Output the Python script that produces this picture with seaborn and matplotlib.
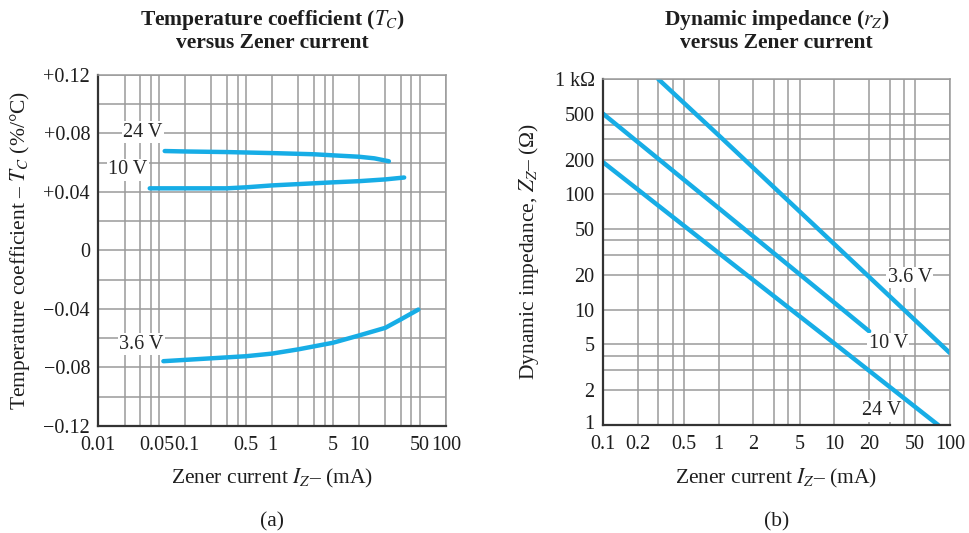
import matplotlib
matplotlib.use("Agg")
import matplotlib.pyplot as plt
import matplotlib.transforms as mtransforms
import seaborn as sns
from matplotlib.ticker import FixedLocator, FixedFormatter, NullFormatter

# (a) temperature coefficient (%/°C) vs Zener current (mA)
tc_24v_i = [0.058, 0.1, 0.3, 1, 3, 6, 10, 15, 22]
tc_24v = [0.068, 0.0677, 0.0673, 0.0666, 0.0658, 0.0648, 0.0641, 0.0630, 0.0610]
tc_10v_i = [0.039, 0.1, 0.3, 0.5, 1, 2, 5, 10, 20, 33]
tc_10v = [0.0425, 0.0425, 0.0425, 0.0432, 0.0445, 0.0454, 0.0466, 0.0474, 0.0486, 0.0499]
tc_36v_i = [0.056, 0.1, 0.5, 1, 2, 5, 10, 20, 30, 48]
tc_36v = [-0.0757, -0.0748, -0.0723, -0.0705, -0.0676, -0.0631, -0.0581, -0.0529, -0.0472, -0.0404]

# (b) dynamic impedance (ohm) vs Zener current (mA)
rz_36v_i = [0.3, 1, 10, 100]
rz_36v = [1000, 325, 37, 4.2]
rz_10v_i = [0.1, 1, 10, 20]
rz_10v = [500, 76, 11.5, 6.5]
rz_24v_i = [0.1, 1, 10, 79]
rz_24v = [190, 31, 5.1, 1]

# tick labels
a_xticks = [0.01, 0.05, 0.1, 0.5, 1, 5, 10, 50, 100]
a_xlabels = ["0.01", "0.05", "0.1", "0.5", "1", "5", "10", "50", "100"]
a_yticks = [-0.12, -0.08, -0.04, 0, 0.04, 0.08, 0.12]
a_ylabels = ["\u22120.12", "\u22120.08", "\u22120.04", "0", "+0.04", "+0.08", "+0.12"]
b_xticks = [0.1, 0.2, 0.5, 1, 2, 5, 10, 20, 50, 100]
b_xlabels = ["0.1", "0.2", "0.5", "1", "2", "5", "10", "20", "50", "100"]
b_yticks = [1, 2, 5, 10, 20, 50, 100, 200, 500, 1000]
b_ylabels = ["1", "2", "5", "10", "20", "50", "100", "200", "500", "1 k\u03a9"]

sns.set_style("white")
plt.rcParams["font.family"] = ["Liberation Serif", "DejaVu Serif"]
plt.rcParams["mathtext.fontset"] = "stix"

blue = "#17ade6"
grid_c = "#9a9a9a"
txt_c = "#1e1e1e"
fs_tick = 14.5
fs_lab = 15.5

fig = plt.figure(figsize=(9.69, 5.33), dpi=100)
ax1 = fig.add_axes([0.1015, 0.2008, 0.3588, 0.6585])
ax2 = fig.add_axes([0.6223, 0.2026, 0.3581, 0.6492])

ax1.set_xscale("log")
ax2.set_xscale("log")
ax2.set_yscale("log")

lw = 3.2
sns.lineplot(x=tc_24v_i, y=tc_24v, ax=ax1, color=blue, lw=lw)
sns.lineplot(x=tc_10v_i, y=tc_10v, ax=ax1, color=blue, lw=lw)
sns.lineplot(x=tc_36v_i, y=tc_36v, ax=ax1, color=blue, lw=lw)
sns.lineplot(x=rz_36v_i, y=rz_36v, ax=ax2, color=blue, lw=lw)
sns.lineplot(x=rz_10v_i, y=rz_10v, ax=ax2, color=blue, lw=lw)
sns.lineplot(x=rz_24v_i, y=rz_24v, ax=ax2, color=blue, lw=lw)

ax1.set_xlim(0.01, 100)
ax1.set_ylim(-0.12, 0.12)
ax2.set_xlim(0.1, 100)
ax2.set_ylim(1, 1000)

ax1.xaxis.set_major_locator(FixedLocator(a_xticks))
ax1.xaxis.set_major_formatter(FixedFormatter(a_xlabels))
ax1.xaxis.set_minor_locator(FixedLocator([0.02, 0.03, 0.04, 0.2, 0.3, 0.4, 2, 3, 4, 20, 30, 40]))
ax1.xaxis.set_minor_formatter(NullFormatter())
ax1.yaxis.set_major_locator(FixedLocator(a_yticks))
ax1.yaxis.set_major_formatter(FixedFormatter(a_ylabels))
ax1.yaxis.set_minor_locator(FixedLocator([-0.10, -0.06, -0.02, 0.02, 0.06, 0.10]))

ax2.xaxis.set_major_locator(FixedLocator(b_xticks))
ax2.xaxis.set_major_formatter(FixedFormatter(b_xlabels))
ax2.xaxis.set_minor_locator(FixedLocator([0.3, 0.4, 3, 4, 30, 40]))
ax2.xaxis.set_minor_formatter(NullFormatter())
ax2.yaxis.set_major_locator(FixedLocator(b_yticks))
ax2.yaxis.set_major_formatter(FixedFormatter(b_ylabels))
ax2.yaxis.set_minor_locator(FixedLocator([3, 4, 30, 40, 300, 400]))
ax2.yaxis.set_minor_formatter(NullFormatter())

for ax in (ax1, ax2):
    ax.set_axisbelow(True)
    ax.grid(True, which="both", color=grid_c, lw=1.1)
    ax.tick_params(which="both", length=0, labelsize=fs_tick, colors=txt_c)
    ax.tick_params(axis="x", pad=7)
    ax.tick_params(axis="y", pad=6)
    for s in ("top", "right"):
        ax.spines[s].set_color(grid_c)
        ax.spines[s].set_linewidth(1.1)
    for s in ("left", "bottom"):
        ax.spines[s].set_color("#333333")
        ax.spines[s].set_linewidth(1.6)
    ax.set_xlabel(r"Zener current $I_Z$" + "\u2013 (mA)", fontsize=fs_lab, color=txt_c)


def nudge(label, dx, dy):
    label.set_transform(label.get_transform()
                        + mtransforms.ScaledTranslation(dx / 72, dy / 72, fig.dpi_scale_trans))


# crowded labels: 0.05 / 0.1 in (a), and "1" next to "0.1" in (b)
xl1 = ax1.get_xticklabels()
nudge(xl1[1], -2, 0)
nudge(xl1[2], 1.5, 0)
nudge(ax2.get_yticklabels()[0], 0, 2.5)

ax1.xaxis.set_label_coords(0.5, -0.118)
ax2.xaxis.set_label_coords(0.5, -0.122)

ax1.set_ylabel("Temperature coefficient \u2013 " + r"$T_C$ (%/°C)", fontsize=fs_lab, color=txt_c)
ax2.set_ylabel(r"Dynamic impedance, $Z_Z$" + "\u2013 (\u03a9)", fontsize=fs_lab, color=txt_c)
ax1.yaxis.set_label_coords(-0.19, 0.5)
ax2.yaxis.set_label_coords(-0.178, 0.5)

box = dict(facecolor="white", edgecolor="none", pad=1.0)
ax1.text(0.0325, 0.081, "24 V", ha="center", va="center", fontsize=fs_tick, bbox=box, zorder=5)
ax1.text(0.0218, 0.0551, "10 V", ha="center", va="center", fontsize=fs_tick, bbox=box, zorder=5)
ax1.text(0.0315, -0.064, "3.6 V", ha="center", va="center", fontsize=fs_tick, bbox=box, zorder=5)
ax2.text(45, 19, "3.6 V", ha="center", va="center", fontsize=fs_tick, bbox=box, zorder=5)
ax2.text(29.2, 5.04, "10 V", ha="center", va="center", fontsize=fs_tick, bbox=box, zorder=5)
ax2.text(25.8, 1.33, "24 V", ha="center", va="center", fontsize=fs_tick, bbox=box, zorder=5)

tkw = dict(ha="center", va="baseline", fontsize=15.5, fontweight="bold", color=txt_c)
fig.text(0.2809, 1 - 25 / 533, r"Temperature coefficient ($\boldsymbol{T_C}$)", **tkw)
fig.text(0.2809, 1 - 48.3 / 533, "versus Zener current", **tkw)
fig.text(0.8014, 1 - 25 / 533, r"Dynamic impedance ($\boldsymbol{r_Z}$)", **tkw)
fig.text(0.8014, 1 - 48.3 / 533, "versus Zener current", **tkw)

fig.text(0.2809, 1 - 526.7 / 533, "(a)", ha="center", va="baseline", fontsize=fs_lab, color=txt_c)
fig.text(0.8014, 1 - 526.7 / 533, "(b)", ha="center", va="baseline", fontsize=fs_lab, color=txt_c)

fig.savefig("out.png", dpi=100)
